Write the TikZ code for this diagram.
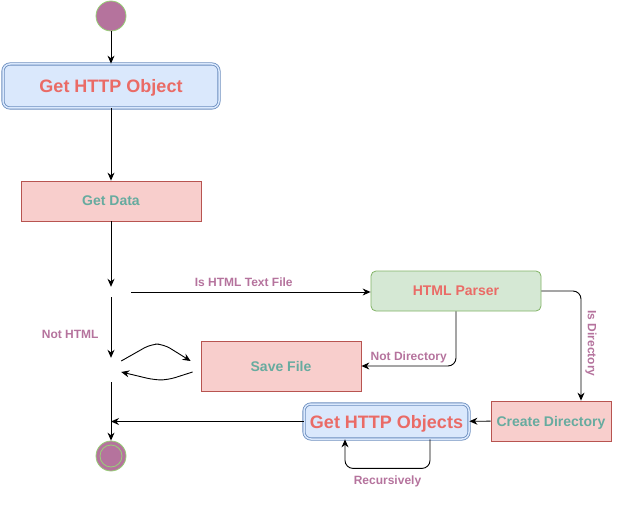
\documentclass[tikz,border=0pt]{standalone}
\usepackage{fontspec}
\setmainfont{Liberation Sans}
\usetikzlibrary{arrows.meta}
\definecolor{txtred}{HTML}{EA6B66}
\definecolor{txtgreen}{HTML}{67AB9F}
\definecolor{lblpurple}{HTML}{B5739D}
\definecolor{bluefill}{HTML}{DAE8FC}
\definecolor{blueline}{HTML}{6C8EBF}
\definecolor{pinkfill}{HTML}{F8CECC}
\definecolor{pinkline}{HTML}{B85450}
\definecolor{greenfill}{HTML}{D5E8D4}
\definecolor{greenline}{HTML}{82B366}
\definecolor{dotline}{HTML}{97D077}
\begin{document}
\begin{tikzpicture}[x=1pt,y=-1pt,
	arr/.style={-{Stealth[length=8pt,width=7pt]},line width=0.9pt},
	lbl/.style={text=lblpurple,font=\fontsize{12}{14}\selectfont\bfseries,inner sep=2pt},
	objbox/.style={draw=blueline,double=bluefill,double distance=1.5pt,line width=0.8pt,
		fill=bluefill,rounded corners=7pt,text=txtred,font=\fontsize{18}{20}\selectfont\bfseries,
		text depth=0pt},
	actbox/.style={draw=pinkline,fill=pinkfill,line width=0.8pt,text=txtgreen,
		font=\fontsize{14}{16}\selectfont\bfseries,text depth=0pt},
	hidden/.style={inner sep=0pt}]
	\useasboundingbox (0,0) rectangle (621,508);
	% nodes
	\node[circle,draw=dotline,fill=lblpurple,minimum size=30,line width=0.8pt,inner sep=0pt] (start) at (111,16) {};
	\node[objbox,minimum width=216,minimum height=44] (getobj) at (111,86) {Get HTTP Object};
	\node[actbox,minimum width=180,minimum height=40] (getdata) at (111,201) {Get Data};
	\node[hidden,minimum width=40,minimum height=10] (dec) at (111,292) {};
	\node[hidden,minimum width=20,minimum height=24] (merge) at (111,370) {};
	\node[actbox,minimum width=160,minimum height=50] (save) at (281,366) {Save File};
	\node[actbox,draw=greenline,fill=greenfill,text=txtred,rounded corners=5pt,
		minimum width=170,minimum height=40] (parser) at (456,291) {HTML Parser};
	\node[actbox,minimum width=120,minimum height=40] (mkdir) at (551,421) {Create Directory};
	\node[objbox,minimum width=165,minimum height=35] (getobjs) at (386.5,421.5) {Get HTTP Objects};
	\node[circle,draw=dotline,fill=lblpurple,minimum size=30,line width=0.8pt,inner sep=0pt] (stop) at (111,456) {};
	\draw[dotline,line width=0.8pt] (stop) circle (11);
	% connectors
	\draw[arr] (start) -- (getobj);
	\draw[arr] (getobj) -- (getdata);
	\draw[arr] (getdata) -- (dec);
	\draw[arr] (dec.east) -- (dec.east -| parser.west)
		node[lbl,pos=0.47,above=3pt] {Is HTML Text File};
	\draw[arr] (dec) -- (merge) node[lbl,pos=0.62,left=10pt] {Not HTML};
	\draw[arr,rounded corners=8pt] ([yshift=9pt]merge.east) -- ++(30,-17) -- ++(12,0)
		-- ([xshift=-10pt,yshift=5pt]save.west);
	\draw[arr,rounded corners=8pt] ([xshift=-8pt,yshift=-6pt]save.west) -- ++(-25,8) -- ++(-13,0)
		-- ([yshift=-2pt]merge.east);
	\draw[arr,rounded corners=8pt] (parser.south) |- (save.east)
		node[lbl,pos=0.75,above=1pt] {Not Directory};
	\draw[arr,rounded corners=8pt] (parser.east) -| ([xshift=30pt]mkdir.north)
		node[lbl,pos=0.74,xshift=10pt,rotate=-90,anchor=center] {Is Directory};
	\draw[arr] (mkdir) -- (getobjs);
	\draw[arr,rounded corners=8pt] ([xshift=43.5pt]getobjs.south) -- ++(0,29)
		-| ([xshift=-41.5pt]getobjs.south) node[lbl,pos=0.25,below=5pt] {Recursively};
	\draw[arr] (getobjs.west) -- (getobjs.west -| merge.south);
	\draw[arr] (merge.south) -- (stop);
\end{tikzpicture}
\end{document}
